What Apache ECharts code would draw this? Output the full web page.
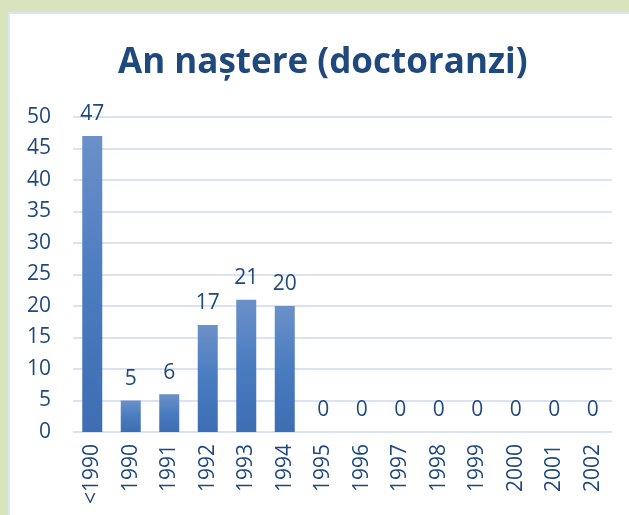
<!DOCTYPE html>
<html>
<head>
<meta charset="utf-8">
<script src="https://cdn.jsdelivr.net/npm/echarts@6/dist/echarts.min.js"></script>
<style>
  html, body { margin: 0; padding: 0; background: #d8e4bc; }
  #panel { position: absolute; left: 8px; top: 12px; width: 640px; height: 520px; background: #fff; border: 2px solid #dce6f2; box-sizing: border-box; }
  #app { position: absolute; left: 0; top: 0; width: 629px; height: 515px; }
</style>
</head>
<body>
<div id="panel"></div>
<div id="app"></div>
<script>
// date grafic
var categories = ['<1990', '1990', '1991', '1992', '1993', '1994', '1995', '1996', '1997', '1998', '1999', '2000', '2001', '2002'];
var values = [47, 5, 6, 17, 21, 20, 0, 0, 0, 0, 0, 0, 0, 0];
var titleText = 'An naștere (doctoranzi)';

var textColor = '#1f497d';
var font = 'Open Sans';

var myChart = echarts.init(document.getElementById('app'));
myChart.setOption({
    title: {
        text: titleText,
        left: 113,
        top: 41,
        textStyle: { fontFamily: font, fontWeight: 'bold', fontSize: 35, color: textColor }
    },
    grid: { left: 73, right: 17, top: 117, bottom: 83 },
    xAxis: {
        type: 'category',
        data: categories,
        axisLine: { show: false },
        axisTick: { show: false },
        axisLabel: { rotate: 90, margin: 12, fontFamily: font, fontSize: 21, color: textColor }
    },
    yAxis: {
        type: 'value',
        min: 0,
        max: 50,
        interval: 5,
        axisLabel: { margin: 22, fontFamily: font, fontSize: 21, color: textColor },
        splitLine: { lineStyle: { color: '#d9e3f3', width: 2 } }
    },
    series: [{
        type: 'bar',
        data: values,
        barWidth: 20,
        itemStyle: {
            color: new echarts.graphic.LinearGradient(0, 0, 0, 1, [
                { offset: 0, color: '#6b90c9' },
                { offset: 0.5, color: '#4a7cc0' },
                { offset: 1, color: '#3d6db2' }
            ])
        },
        label: { show: true, position: 'top', distance: 11, fontFamily: font, fontSize: 21, color: textColor }
    }]
});
</script>
</body>
</html>
